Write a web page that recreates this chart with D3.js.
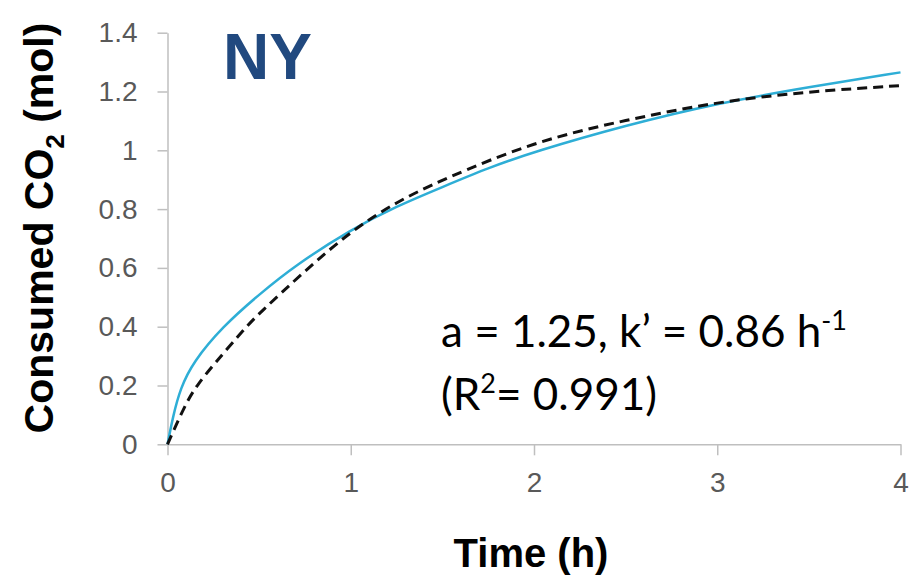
<!DOCTYPE html>
<html>
<head>
<meta charset="utf-8">
<script src="https://cdn.jsdelivr.net/npm/d3@7"></script>
<style>
  body { margin: 0; background: white; }
</style>
</head>
<body>
<div id="chart"></div>
<script>
// Data
const fitTime = [0, 0.1, 0.16, 0.25, 0.43, 0.5, 0.75, 1, 1.25, 1.5, 2, 2.5, 3, 3.5, 4];
const fitCO2  = [0, 0.14, 0.2, 0.27, 0.4, 0.445, 0.59, 0.725, 0.825, 0.9, 1.03, 1.103, 1.165, 1.2, 1.22];

const expTime = [0, 0.03, 0.07, 0.14, 0.3, 0.5, 0.7, 1, 1.25, 1.5, 1.75, 2, 2.5, 3, 3.5, 4];
const expCO2  = [0, 0.095, 0.19, 0.28, 0.4, 0.51, 0.61, 0.73, 0.81, 0.875, 0.94, 0.995, 1.085, 1.16, 1.215, 1.265];

const xTicks = [0, 1, 2, 3, 4];
const yTicks = [0, 0.2, 0.4, 0.6, 0.8, 1, 1.2, 1.4];

const W = 909, H = 578;

const svg = d3.select("#chart")
    .append("svg")
    .attr("width", W)
    .attr("height", H)
    .style("background-color", "white");

// Scales
const x = d3.scaleLinear().domain([0, 4]).range([167.5, 900.5]);
const y = d3.scaleLinear().domain([0, 1.4]).range([444.3, 32.7]);

// Y axis
const gy = svg.append("g")
    .attr("transform", `translate(${x(0)},0)`)
    .call(d3.axisLeft(y).tickValues(yTicks).tickSize(10).tickSizeOuter(0).tickPadding(20)
        .tickFormat(d => d3.format("~g")(d)));
gy.select(".domain").attr("stroke", "#bfbfbf").attr("stroke-width", 1.5);
gy.selectAll(".tick line").attr("stroke", "#bfbfbf").attr("stroke-width", 1.5);
gy.selectAll(".tick text")
    .attr("fill", "#595959")
    .style("font-family", "Liberation Sans, Arial, sans-serif")
    .style("font-size", "28px");

// X axis
const gx = svg.append("g")
    .attr("transform", `translate(0,${y(0)})`)
    .call(d3.axisBottom(x).tickValues(xTicks).tickSize(11).tickSizeOuter(0).tickPadding(17)
        .tickFormat(d3.format("d")));
gx.select(".domain").attr("stroke", "#bfbfbf").attr("stroke-width", 1.5);
gx.selectAll(".tick line").attr("stroke", "#bfbfbf").attr("stroke-width", 1.5);
gx.selectAll(".tick text")
    .attr("fill", "#595959")
    .style("font-family", "Liberation Sans, Arial, sans-serif")
    .style("font-size", "28px");

// Lines
const line = d3.line()
    .x(d => x(d[0]))
    .y(d => y(d[1]))
    .curve(d3.curveBasis);

svg.append("path")
    .datum(expTime.map((t, i) => [t, expCO2[i]]))
    .attr("fill", "none")
    .attr("stroke", "#2eaed6")
    .attr("stroke-width", 2.5)
    .attr("d", line);

svg.append("path")
    .datum(fitTime.map((t, i) => [t, fitCO2[i]]))
    .attr("fill", "none")
    .attr("stroke", "#111")
    .attr("stroke-width", 3)
    .attr("stroke-dasharray", "10,6")
    .attr("d", line);

// Panel label
svg.append("text")
    .attr("x", 223)
    .attr("y", 79)
    .attr("fill", "#21497f")
    .style("font-family", "Liberation Sans, Arial, sans-serif")
    .style("font-weight", "bold")
    .style("font-size", "64px")
    .text("NY");

// Axis titles
svg.append("text")
    .attr("text-anchor", "middle")
    .attr("x", 531)
    .attr("y", 567)
    .style("font-family", "Liberation Sans, Arial, sans-serif")
    .style("font-weight", "bold")
    .style("font-size", "40px")
    .text("Time (h)");

const yTitle = svg.append("text")
    .attr("text-anchor", "middle")
    .attr("transform", `translate(53,228) rotate(-90)`)
    .style("font-family", "Liberation Sans, Arial, sans-serif")
    .style("font-weight", "bold")
    .style("font-size", "41px");
yTitle.append("tspan").text("Consumed CO");
yTitle.append("tspan").attr("dy", 11).style("font-size", "26px").text("2");
yTitle.append("tspan").attr("dy", -11).text(" (mol)");

// Fit annotation
const ann = svg.append("g")
    .style("font-family", "Lato, 'Open Sans', sans-serif")
    .style("font-size", "44px")
    .attr("fill", "#000");
const l1 = ann.append("text").attr("x", 441).attr("y", 347);
l1.append("tspan").text("a = 1.25, k\u2019 = 0.86 h");
l1.append("tspan").attr("dy", -17).style("font-size", "27px").text("-1");
const l2 = ann.append("text").attr("x", 441).attr("y", 410);
l2.append("tspan").text("(R");
l2.append("tspan").attr("dy", -17).style("font-size", "27px").text("2");
l2.append("tspan").attr("dy", 17).text("= 0.991)");
</script>
</body>
</html>
